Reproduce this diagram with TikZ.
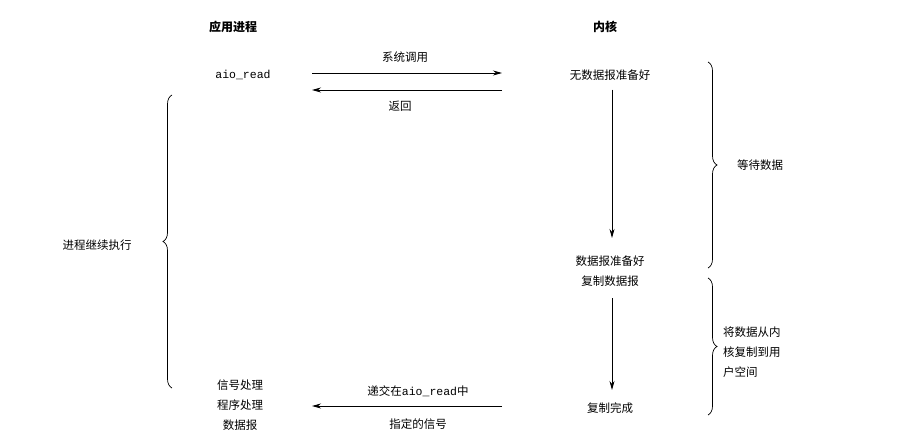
\documentclass[tikz,border=0pt]{standalone}
\usepackage{fontspec}
\setmainfont{Noto Sans CJK SC}
\setmonofont{Liberation Mono}
\usetikzlibrary{decorations.pathreplacing,arrows.meta}
\begin{document}
\begin{tikzpicture}[x=1pt,y=-1pt,
  txt/.style={font=\fontsize{11.5}{20}\selectfont,inner sep=1pt},
  hd/.style={font=\fontsize{12}{14}\selectfont\bfseries},
  arr/.style={-{Stealth[length=9pt,width=5pt]},line width=0.8pt},
  brc/.style={decorate,decoration={brace,amplitude=9pt},line width=0.7pt}]
\useasboundingbox[fill=white] (0,0) rectangle (907,442);
\node[hd] (h1) at (233,27) {应用进程};
\node[hd] (h2) at (605,27) {内核};
\node[txt,font=\ttfamily\fontsize{11.5}{14}\selectfont] (aio) at (243,75) {aio\_read};
\node[txt] (k1) at (610,75) {无数据报准备好};
\coordinate (a1s) at (312,73); \coordinate (a1e) at (502,73);
\draw[arr] (a1s) -- (a1e);
\node[txt] (l1) at (405,57) {系统调用};
\coordinate (a2s) at (502,90); \coordinate (a2e) at (312,90);
\draw[arr] (a2s) -- (a2e);
\node[txt] (l2) at (400,106) {返回};
\node[txt,align=center] (k2) at (610,271) {数据报准备好\\复制数据报};
\node[txt] (k3) at (610,408) {复制完成};
\draw[arr] (k1.south -| 612,0) ++(0,8) -- (612,238);
\draw[arr] (612,298) -- (612,390);
\draw[brc] (708,62) -- (708,268);
\node[txt] (w) at (760,165) {等待数据};
\draw[brc] (708,278) -- (708,415);
\node[txt,align=left,anchor=west] (c) at (722,352) {将数据从内\\核复制到用\\户空间};
\draw[brc] (172,388) -- (172,95);
\node[txt] (p) at (97,245) {进程继续执行};
\node[txt,align=center] (s) at (240,405) {信号处理\\程序处理\\数据报};
\coordinate (a3s) at (502,406); \coordinate (a3e) at (312,406);
\draw[arr] (a3s) -- (a3e);
\node[txt] (l3) at (418,391) {递交在{\ttfamily aio\_read}中};
\node[txt] (l4) at (418,424) {指定的信号};
\end{tikzpicture}
\end{document}
